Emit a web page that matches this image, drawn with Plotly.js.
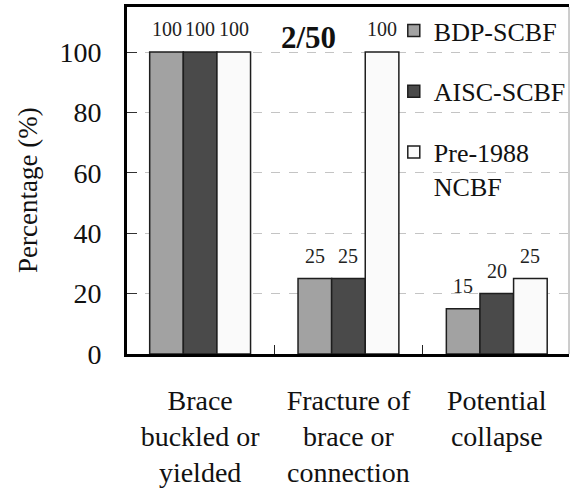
<!DOCTYPE html>
<html>
<head>
<meta charset="utf-8">
<script src="https://cdn.plot.ly/plotly-3.0.1.min.js"></script>
</head>
<body style="margin:0">
<div id="chart" style="width:572px;height:492px"></div>
<script>
// Failure modes at the 2/50 hazard level, share of frames (%)
var categories = ['Brace<br>buckled or<br>yielded', 'Fracture of<br>brace or<br>connection', 'Potential<br>collapse'];
var seriesNames = ['BDP-SCBF', 'AISC-SCBF', 'Pre-1988<br>NCBF'];
var bdpScbf = [100, 25, 15];
var aiscScbf = [100, 25, 20];
var pre1988Ncbf = [100, 100, 25];
var seriesColors = ['#a2a2a2', '#4a4a4a', '#fafafa'];
var yTicks = [0, 20, 40, 60, 80, 100];

(function () {
  var fam = 'Times New Roman';
  var barGap = 0.32;
  var seriesValues = [bdpScbf, aiscScbf, pre1988Ncbf];

  var barTraces = seriesValues.map(function (vals, j) {
    return {
      type: 'bar',
      name: seriesNames[j],
      x: categories,
      y: vals,
      legendgroup: 'g' + j,
      marker: { color: seriesColors[j], line: { color: '#1e1e1e', width: 1.5 } }
    };
  });

  // value labels above each bar, placed at the grouped bar offsets
  var n = seriesValues.length;
  var w = (1 - barGap) / n;
  var notes = [];
  seriesValues.forEach(function (vals, j) {
    vals.forEach(function (v, i) {
      notes.push({
        x: i + (j - (n - 1) / 2) * w,
        y: v,
        xref: 'x', yref: 'y',
        text: String(v),
        showarrow: false,
        xanchor: 'center', yanchor: 'middle',
        yshift: 23,
        font: { family: fam, size: 20, color: '#222' }
      });
    });
  });

  notes.push({ xref: 'paper', yref: 'paper', x: 0.41, y: 0.912, xanchor: 'center', yanchor: 'middle',
    showarrow: false, text: '<b>2/50</b>', font: { family: fam, size: 31, color: '#111' } });
  notes.push({ xref: 'paper', yref: 'paper', x: 0, y: 0.4726, xanchor: 'center', yanchor: 'middle',
    xshift: -99, showarrow: false, textangle: -90, text: 'Percentage (%)',
    font: { family: fam, size: 27, color: '#111' } });

  var lay = {
    width: 572,
    height: 492,
    margin: { l: 127, r: 1, t: 7, b: 138 },
    barmode: 'group',
    bargap: barGap,
    bargroupgap: 0,
    font: { family: fam, color: '#111' },
    showlegend: true,
    legend: {
      x: 0.6036, xanchor: 'left',
      y: 1.0, yanchor: 'top',
      bgcolor: 'rgba(0,0,0,0)',
      font: { family: fam, size: 26, color: '#111' },
      traceorder: 'grouped',
      tracegroupgap: 24,
      valign: 'top'
    },
    xaxis: {
      type: 'category',
      range: [-0.493, 2.487],
      showline: true, linecolor: '#000', linewidth: 3, mirror: true,
      showgrid: false, zeroline: false,
      ticks: 'inside', tickson: 'boundaries', ticklen: 9, tickwidth: 1.5, tickcolor: '#222',
      tickfont: { family: fam, size: 28, color: '#111' },
      ticklabelstandoff: 19
    },
    yaxis: {
      range: [0, 114.9],
      tickvals: yTicks,
      showline: true, linecolor: '#000', linewidth: 3,
      showgrid: true, gridcolor: '#c4c4c4', griddash: 'dash', gridwidth: 1,
      zeroline: false,
      ticks: 'inside', ticklen: 10, tickwidth: 1, tickcolor: '#333',
      tickfont: { family: fam, size: 28, color: '#111' },
      ticklabelstandoff: 17
    },
    shapes: [
      { type: 'line', xref: 'paper', yref: 'paper', x0: 1, x1: 1, y0: 0, y1: 1,
        line: { color: '#9a9a9a', width: 1 } }
    ],
    annotations: notes
  };

  Plotly.newPlot('chart', barTraces, lay, { staticPlot: true });
})();
</script>
</body>
</html>
